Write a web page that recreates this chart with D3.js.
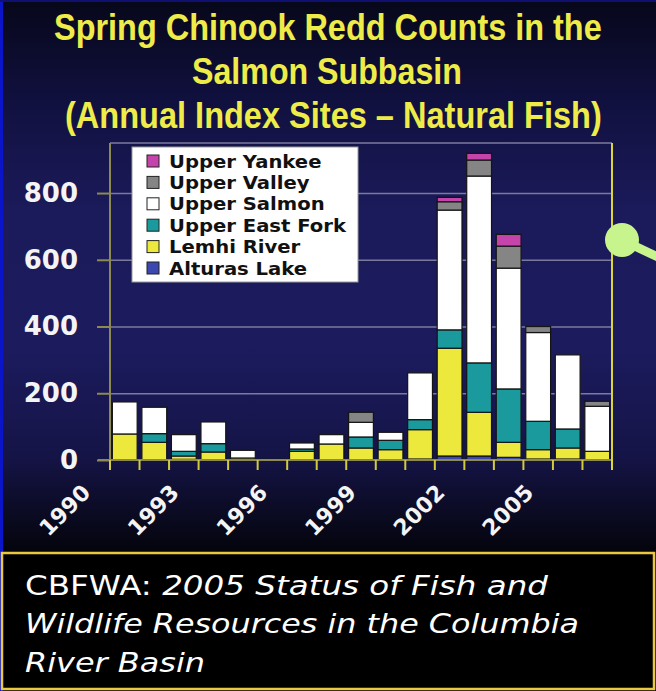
<!DOCTYPE html>
<html>
<head>
<meta charset="utf-8">
<script src="https://cdn.jsdelivr.net/npm/d3@7"></script>
<style>
    body{margin:0;padding:0;background:#000;}
    svg{display:block;}
</style>
</head>
<body>
<div id="chart"></div>
<script>
var years=[1990,1991,1992,1993,1994,1995,1996,1997,1998,1999,2000,2001,2002,2003,2004,2005,2006];
var alturasLake=[0,0,2,0,0,0,0,0,0,0,3,12,12,8,3,3,0];
var lemhiRiver=[78,53,10,24,6,2,26,48,36,31,88,323,131,45,28,33,26];
var upperEastFork=[0,26,14,25,0,0,7,0,33,28,30,55,148,160,85,57,0];
var upperSalmon=[96,79,50,65,23,0,18,28,44,24,140,359,560,362,266,222,135];
var upperValley=[0,0,0,0,0,0,0,0,30,0,0,25,48,66,18,0,15];
var upperYankee=[0,0,0,0,0,0,0,0,0,0,0,13,20,35,0,0,0];
var seriesNames=["Alturas Lake","Lemhi River","Upper East Fork","Upper Salmon","Upper Valley","Upper Yankee"];
var seriesColors=["#3a48b0","#ece83c","#1a9a9c","#ffffff","#858585","#c444ac"];
var yTicks=[0,200,400,600,800];
var xLabels=[1990,1993,1996,1999,2002,2005];
var titleLines=["Spring Chinook Redd Counts in the","Salmon Subbasin","(Annual Index Sites \u2013 Natural Fish)"];

var W=656,H=691;
var plot={left:110,right:612,top:143,bottom:460};

var svg=d3.select("#chart").append("svg")
    .attr("width",W).attr("height",H);

var grad=svg.append("defs").append("linearGradient")
    .attr("id","bg").attr("x1",0).attr("y1",0).attr("x2",0).attr("y2",1);
[[0,"#07071a"],[0.14,"#10103e"],[0.3,"#1b1a5a"],[0.5,"#1c1b5e"],[0.66,"#151447"],[0.74,"#0b0b24"],[0.8,"#04040c"]]
    .forEach(function (s) {
        grad.append("stop").attr("offset",s[0]).attr("stop-color",s[1]);
    });

svg.append("rect").attr("width",W).attr("height",H).attr("fill","url(#bg)");
svg.append("rect").attr("x",0).attr("y",0).attr("width",3).attr("height",H).attr("fill","#0a14c8");
svg.append("rect").attr("x",0).attr("y",0).attr("width",W).attr("height",2).attr("fill","#101070");

// title - squeezed to the narrow look of the original
var titleBox=[[54,548],[192,270],[65,537]];
svg.selectAll("text.title")
    .data(titleLines)
    .enter()
    .append("text")
    .attr("class","title")
    .text(function (d) {return d})
    .attr("x",0)
    .attr("y",0)
    .style("font-family","'Liberation Sans',Arial,sans-serif")
    .style("font-weight","bold")
    .style("font-size","37px")
    .style("fill","#eeec48")
    .attr("transform",function (d,i) {
        var w=this.getComputedTextLength();
        return "translate("+titleBox[i][0]+","+(40+i*44)+") scale("+(titleBox[i][1]/w)+",1)"
    });

var x=d3.scaleBand()
    .domain(years)
    .range([plot.left,plot.right])
    .paddingInner(0.16)
    .paddingOuter(0.08);

var y=d3.scaleLinear()
    .domain([0,950])
    .range([plot.bottom,plot.top]);

// gridlines
svg.append("g")
    .attr("transform","translate("+plot.left+",0)")
    .call(d3.axisLeft(y).tickValues([200,400,600,800]).tickSize(-(plot.right-plot.left)).tickFormat(""))
    .call(function (g) {
        g.select(".domain").remove();
        g.selectAll("line").attr("stroke","#7c7a9c").attr("stroke-width",1.6);
    });
svg.append("line")
    .attr("x1",plot.left).attr("x2",plot.right)
    .attr("y1",plot.top).attr("y2",plot.top)
    .attr("stroke","#7c7a9c").attr("stroke-width",1.6);

// bars
var table=years.map(function (yr,i) {
    return {year:yr,"Alturas Lake":alturasLake[i],"Lemhi River":lemhiRiver[i],"Upper East Fork":upperEastFork[i],
        "Upper Salmon":upperSalmon[i],"Upper Valley":upperValley[i],"Upper Yankee":upperYankee[i]}
});
var stacked=d3.stack().keys(seriesNames)(table);

svg.append("g").selectAll("g")
    .data(stacked)
    .enter()
    .append("g")
    .attr("fill",function (d,i) {return seriesColors[i]})
    .selectAll("rect")
    .data(function (d) {return d.filter(function (p) {return p[1]-p[0]>0})})
    .enter()
    .append("rect")
    .attr("x",function (d) {return x(d.data.year)})
    .attr("width",x.bandwidth())
    .attr("y",function (d) {return y(d[1])})
    .attr("height",function (d) {return y(d[0])-y(d[1])})
    .attr("stroke","#141414")
    .attr("stroke-width",1.2);

// y axis
svg.append("g")
    .attr("transform","translate("+plot.left+",0)")
    .call(d3.axisLeft(y).tickValues(yTicks).tickSize(13).tickPadding(19))
    .call(function (g) {
        g.select(".domain").attr("stroke","#8c8a52").attr("stroke-width",2)
            .attr("d","M0,"+plot.top+"V"+(plot.bottom+3));
        g.selectAll("line").attr("stroke","#8c8a52").attr("stroke-width",2);
        g.selectAll("text")
            .style("font-family","'DejaVu Sans',Verdana,sans-serif")
            .style("font-weight","bold")
            .style("font-size","26px")
            .style("fill","#f4f4f4");
    });

// x axis
var step=x.step();
var bounds=d3.range(years.length+1).map(function (i) {return plot.left+i*step});
svg.append("line")
    .attr("x1",98).attr("x2",plot.right)
    .attr("y1",plot.bottom).attr("y2",plot.bottom)
    .attr("stroke","#8c8a52").attr("stroke-width",2);
svg.append("g").selectAll("line")
    .data(bounds)
    .enter()
    .append("line")
    .attr("x1",function (d) {return d}).attr("x2",function (d) {return d})
    .attr("y1",plot.bottom).attr("y2",plot.bottom+10)
    .attr("stroke","#d2cc3c").attr("stroke-width",2);
svg.append("line")
    .attr("x1",plot.right).attr("x2",plot.right)
    .attr("y1",plot.top).attr("y2",plot.bottom+10)
    .attr("stroke","#dcd632").attr("stroke-width",2);

svg.append("g").selectAll("text")
    .data(xLabels)
    .enter()
    .append("text")
    .text(function (d) {return d})
    .attr("transform",function (d) {
        return "translate("+(x(d)+x.bandwidth()/2-33)+",494) rotate(-45)"
    })
    .attr("text-anchor","end")
    .style("font-family","'DejaVu Sans',Verdana,sans-serif")
    .style("font-weight","bold")
    .style("font-size","22px")
    .style("fill","#f4f4f4");

// legend
var legend=svg.append("g").attr("transform","translate(132,147)");
legend.append("rect")
    .attr("width",226).attr("height",135)
    .attr("fill","#ffffff").attr("stroke","#9a9a9a").attr("stroke-width",1);
var legendItems=legend.selectAll("g.item")
    .data(seriesNames.slice().reverse())
    .enter()
    .append("g")
    .attr("class","item")
    .attr("transform",function (d,i) {return "translate(0,"+(14+i*21.4)+")"});
legendItems.append("rect")
    .attr("x",15).attr("y",-6)
    .attr("width",12).attr("height",12)
    .attr("fill",function (d) {return seriesColors[seriesNames.indexOf(d)]})
    .attr("stroke","#222").attr("stroke-width",1);
legendItems.append("text")
    .text(function (d) {return d})
    .attr("x",37).attr("y",6.5)
    .style("font-family","'DejaVu Sans',Verdana,sans-serif")
    .style("font-weight","bold")
    .style("font-size","17.5px")
    .style("fill","#111")
    .attr("lengthAdjust","spacingAndGlyphs")
    .attr("textLength",function () {return this.getComputedTextLength()*1.12});

// pointer
svg.append("line")
    .attr("x1",622).attr("y1",240).attr("x2",660).attr("y2",258)
    .attr("stroke","#c8f48e").attr("stroke-width",9);
svg.append("circle")
    .attr("cx",622).attr("cy",240).attr("r",17)
    .attr("fill","#c8f48e");

// source box
svg.append("rect")
    .attr("x",2).attr("y",553).attr("width",652).attr("height",136)
    .attr("fill","#000").attr("stroke","#ecc83e").attr("stroke-width",2.5);
var cap=svg.append("g")
    .style("font-family","'DejaVu Sans',Verdana,sans-serif")
    .style("font-size","27px")
    .style("fill","#ffffff");
var l1=cap.append("text").attr("x",25).attr("y",595)
    .attr("textLength",523).attr("lengthAdjust","spacingAndGlyphs");
l1.append("tspan").text("CBFWA:  ");
l1.append("tspan").text("2005 Status of Fish and").style("font-style","italic");
cap.append("text").attr("x",25).attr("y",633).style("font-style","italic")
    .attr("textLength",554).attr("lengthAdjust","spacingAndGlyphs")
    .text("Wildlife Resources in the Columbia");
cap.append("text").attr("x",25).attr("y",672).style("font-style","italic")
    .attr("textLength",180).attr("lengthAdjust","spacingAndGlyphs")
    .text("River Basin");
</script>
</body>
</html>
